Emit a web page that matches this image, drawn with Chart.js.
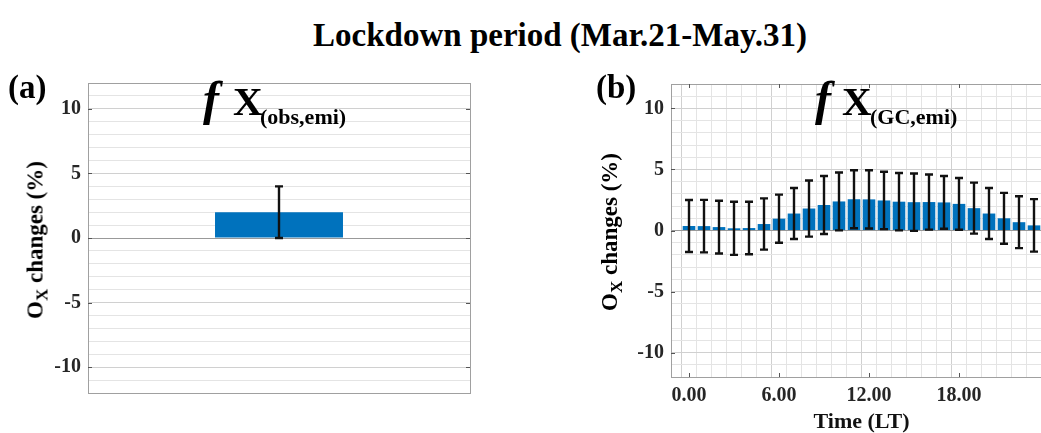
<!DOCTYPE html>
<html>
<head>
<meta charset="utf-8">
<script src="https://cdn.jsdelivr.net/npm/chart.js@4.4.1/dist/chart.umd.min.js"></script>
<style>
  html, body { margin: 0; padding: 0; background: #fff; overflow: hidden; width: 1041px; height: 433px; }
  body { position: relative; font-family: 'Liberation Serif', 'Times New Roman', serif; font-weight: bold; color: #000; }
  .abs { position: absolute; line-height: 1; white-space: nowrap; z-index: 2; }
  .box { position: absolute; z-index: 1; }
  .ylab { position: absolute; font-size: 23px; line-height: 1; white-space: nowrap; z-index: 2;
          transform: translate(-50%, -50%) rotate(-90deg); }
  .ylab span { font-size: 17px; position: relative; top: 5px; }
</style>
</head>
<body>
<div class="abs" id="mainTitle" style="left:0;width:1120px;text-align:center;top:19px;font-size:33px;">Lockdown period (Mar.21-May.31)</div>

<div class="abs" style="left:8px;top:71px;font-size:33px;">(a)</div>
<div class="abs" style="left:596px;top:71px;font-size:33px;">(b)</div>

<div class="abs" style="left:203px;top:75px;font-size:48px;font-style:italic;">f</div>
<div class="abs" style="left:233px;top:81px;font-size:41px;">X</div>
<div class="abs" style="left:260px;top:106px;font-size:22px;">(obs,emi)</div>

<div class="abs" style="left:815px;top:75px;font-size:48px;font-style:italic;">f</div>
<div class="abs" style="left:842px;top:81px;font-size:41px;">X</div>
<div class="abs" style="left:870px;top:106px;font-size:22px;">(GC,emi)</div>

<div class="ylab" style="left:35px;top:240px;">O<span>X</span> changes (%)</div>
<div class="ylab" style="left:609px;top:232px;">O<span>X</span> changes (%)</div>

<div class="box" style="left:0;top:60px;width:520px;height:373px;"><canvas id="chartA" width="520" height="373"></canvas></div>
<div class="box" style="left:580px;top:60px;width:520px;height:373px;"><canvas id="chartB" width="520" height="373"></canvas></div>

<script>
// panel (a): whole lockdown period
const periodLabels = ['Mar.21-May.31'];
const obsValues = [2.0];
const obsErrors = [2.0];

// panel (b): hourly (local time)
const hours = [0, 1, 2, 3, 4, 5, 6, 7, 8, 9, 10, 11, 12, 13, 14, 15, 16, 17, 18, 19, 20, 21, 22, 23];
const gcValues = [0.37, 0.36, 0.28, 0.18, 0.2, 0.53, 0.97, 1.39, 1.8, 2.09, 2.38, 2.56, 2.55, 2.46, 2.36, 2.32, 2.33, 2.3, 2.18, 1.83, 1.39, 1.0, 0.68, 0.42];
const gcErrors = [2.13, 2.15, 2.16, 2.18, 2.15, 2.1, 1.97, 2.09, 2.3, 2.38, 2.37, 2.37, 2.39, 2.35, 2.35, 2.35, 2.26, 2.16, 2.12, 2.09, 2.09, 2.08, 2.12, 2.15];

const yTickValues = [-10, -5, 0, 5, 10];
const xTickValues = [0, 6, 12, 18];

const FONT = "'Liberation Serif', 'Times New Roman', serif";
const BAR_BLUE = '#0072BD';

const errorBarPlugin = {
  id: 'errorBars',
  afterDatasetsDraw(chart, args, opts) {
    const ctx = chart.ctx;
    const yScale = chart.scales.y;
    const meta = chart.getDatasetMeta(0);
    const vals = chart.data.datasets[0].data;
    ctx.save();
    ctx.strokeStyle = opts.color;
    ctx.lineWidth = opts.width;
    meta.data.forEach((bar, i) => {
      const v = typeof vals[i] === 'object' ? vals[i].y : vals[i];
      const e = opts.errors[i];
      const yTop = yScale.getPixelForValue(v + e);
      const yBot = yScale.getPixelForValue(v - e);
      const x = Math.round(bar.x);
      ctx.beginPath();
      ctx.moveTo(x, yTop); ctx.lineTo(x, yBot);
      ctx.moveTo(x - opts.cap, yTop); ctx.lineTo(x + opts.cap, yTop);
      ctx.moveTo(x - opts.cap, yBot); ctx.lineTo(x + opts.cap, yBot);
      ctx.stroke();
    });
    ctx.restore();
  }
};

// grey box round the axes plus small inward tick marks
const framePlugin = {
  id: 'frame',
  afterDraw(chart, args, opts) {
    const { ctx, chartArea: a } = chart;
    ctx.save();
    ctx.strokeStyle = '#a0a0a0';
    ctx.lineWidth = 1;
    ctx.strokeRect(Math.round(a.left) + 0.5, Math.round(a.top) + 0.5,
      Math.round(a.right - a.left), Math.round(a.bottom - a.top));
    ctx.strokeStyle = '#555';
    ctx.beginPath();
    (opts.yTicks || []).forEach(v => {
      const y = Math.round(chart.scales.y.getPixelForValue(v)) + 0.5;
      ctx.moveTo(a.left, y); ctx.lineTo(a.left + 4, y);
      ctx.moveTo(a.right, y); ctx.lineTo(a.right - 4, y);
    });
    (opts.xTicks || []).forEach(v => {
      const x = Math.round(chart.scales.x.getPixelForValue(v)) + 0.5;
      ctx.moveTo(x, a.bottom); ctx.lineTo(x, a.bottom - 4);
      ctx.moveTo(x, a.top); ctx.lineTo(x, a.top + 4);
    });
    ctx.stroke();
    ctx.restore();
  }
};

function gridColor(major) {
  return (c) => {
    if (!c.tick) return '#e4e4e4';
    const v = c.tick.value;
    if (major === 5 && v === 0) return '#999999';
    return Math.abs(v % major) < 1e-9 ? '#d0d0d0' : '#e4e4e4';
  };
}

function yAxis(width) {
  return {
    min: -12,
    max: 12,
    ticks: {
      stepSize: 1,
      autoSkip: false,
      padding: 7,
      color: '#262626',
      font: { family: FONT, size: 20, weight: 'bold' },
      callback: (v) => yTickValues.includes(v) ? String(v) : ''
    },
    grid: { drawTicks: false, color: gridColor(5) },
    border: { display: false },
    afterFit: (scale) => { scale.width = width; }
  };
}

new Chart(document.getElementById('chartA'), {
  type: 'bar',
  data: {
    labels: periodLabels,
    datasets: [{
      data: obsValues,
      backgroundColor: BAR_BLUE,
      borderWidth: 0,
      categoryPercentage: 1,
      barPercentage: 0.335
    }]
  },
  options: {
    responsive: false,
    animation: false,
    devicePixelRatio: 1,
    layout: { padding: { left: 0, right: 50, top: 23, bottom: 40 } },
    scales: {
      x: { display: false },
      y: yAxis(88)
    },
    plugins: {
      legend: { display: false },
      tooltip: { enabled: false },
      errorBars: { errors: obsErrors, color: '#111', width: 2.4, cap: 4 },
      frame: { yTicks: yTickValues }
    }
  },
  plugins: [errorBarPlugin, framePlugin]
});

new Chart(document.getElementById('chartB'), {
  type: 'bar',
  data: {
    datasets: [{
      data: hours.map((h, i) => ({ x: h, y: gcValues[i] })),
      backgroundColor: BAR_BLUE,
      borderWidth: 0,
      categoryPercentage: 1,
      barPercentage: 0.84
    }]
  },
  options: {
    responsive: false,
    animation: false,
    devicePixelRatio: 1,
    layout: { padding: { left: 0, right: 48, top: 24, bottom: 0 } },
    scales: {
      x: {
        type: 'linear',
        min: -1.2,
        max: 24.2,
        offset: false,
        ticks: {
          stepSize: 1,
          includeBounds: false,
          autoSkip: false,
          maxRotation: 0,
          padding: 7,
          color: '#262626',
          font: { family: FONT, size: 20, weight: 'bold' },
          callback: (v) => xTickValues.includes(v) ? v.toFixed(2) : ''
        },
        grid: { drawTicks: false, color: gridColor(6) },
        border: { display: false },
        title: {
          display: true,
          text: 'Time (LT)',
          color: '#111',
          font: { family: FONT, size: 22, weight: 'bold', lineHeight: 1 },
          padding: { top: 0, bottom: 0 }
        },
        afterFit: (scale) => { scale.height = 56; }
      },
      y: yAxis(91)
    },
    plugins: {
      legend: { display: false },
      tooltip: { enabled: false },
      errorBars: { errors: gcErrors, color: '#111', width: 2.4, cap: 4 },
      frame: { yTicks: yTickValues, xTicks: xTickValues }
    }
  },
  plugins: [errorBarPlugin, framePlugin]
});
</script>
</body>
</html>
